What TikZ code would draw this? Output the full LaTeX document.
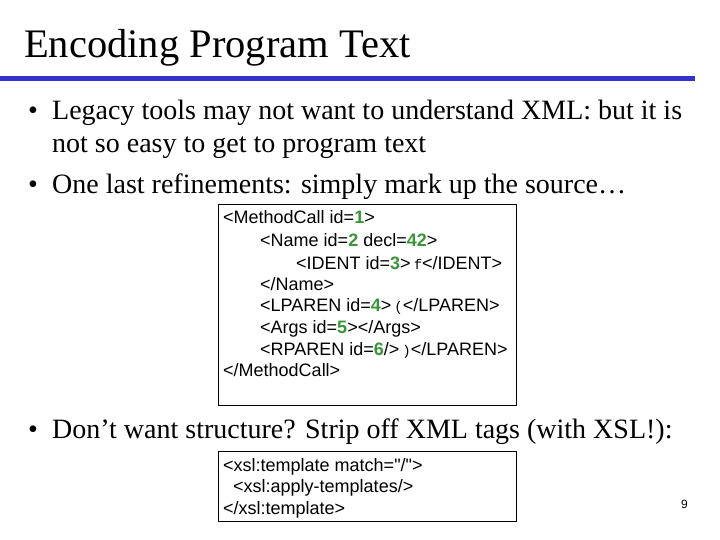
\documentclass[tikz,border=0pt]{standalone}
\usepackage{fontspec}
\setmainfont{Liberation Serif}
\setsansfont{Liberation Sans}[Ligatures=TeXOff]
\setmonofont{Liberation Mono}
\definecolor{rulecol}{RGB}{51,51,204}
\definecolor{numgreen}{RGB}{56,150,56}
\newcommand{\gn}[1]{\textcolor{numgreen}{\textbf{#1}}}
\newcommand{\mt}[1]{\,{\ttfamily\fontsize{14}{14}\selectfont #1}}
\begin{document}
\begin{tikzpicture}[x=1pt,y=-1pt,
  bul/.style={anchor=base west,inner sep=0,font=\fontsize{28}{28}\selectfont},
  code/.style={anchor=base west,inner sep=0,font=\sffamily\fontsize{18}{18}\selectfont},
  box/.style={draw,line width=0.8pt}]
\useasboundingbox (0,0) rectangle (720,540);
\node[anchor=base west,inner sep=0,font=\fontsize{40.5}{40.5}\selectfont] (title) at (24,58) {Encoding Program Text};
\fill[rulecol] (0,76) rectangle (695,81);
\node[bul] (b1) at (28,120) {•};
\node[bul] (t1) at (52,120) {Legacy tools may not want to understand XML: but it is};
\node[bul] (t1b) at (52,153) {not so easy to get to program text};
\node[bul] (b2) at (28,194) {•};
\node[bul] (t2) at (52,194) {One last refinements: simply mark up the source\ldots};
\draw[box] (218,204) rectangle (516,405);
\node[code] (c1) at (223,224) {<MethodCall id=\gn{1}>};
\node[code] (c2) at (260,247) {<Name id=\gn{2} decl=\gn{42}>};
\node[code] (c3) at (296,269) {<IDENT id=\gn{3}>\mt{f}</IDENT>};
\node[code] (c4) at (260,290) {</Name>};
\node[code] (c5) at (260,311) {<LPAREN id=\gn{4}>\mt{(}</LPAREN>};
\node[code] (c6) at (260,333) {<Args id=\gn{5}></Args>};
\node[code] (c7) at (260,355) {<RPAREN id=\gn{6}/>\mt{)}</LPAREN>};
\node[code] (c8) at (223,376) {</MethodCall>};
\node[bul] (b3) at (28,438) {•};
\node[bul] (t3) at (52,438) {Don’t want structure? Strip off XML tags (with XSL!):};
\draw[box] (218,451) rectangle (516,521);
\node[code] (d1) at (223,471) {<xsl:template match="/">};
\node[code] (d2) at (233,492) {<xsl:apply-templates/>};
\node[code] (d3) at (223,514) {</xsl:template>};
\node[anchor=base west,inner sep=0,font=\sffamily\fontsize{12}{12}\selectfont] (pg) at (681,508) {9};
\end{tikzpicture}
\end{document}
